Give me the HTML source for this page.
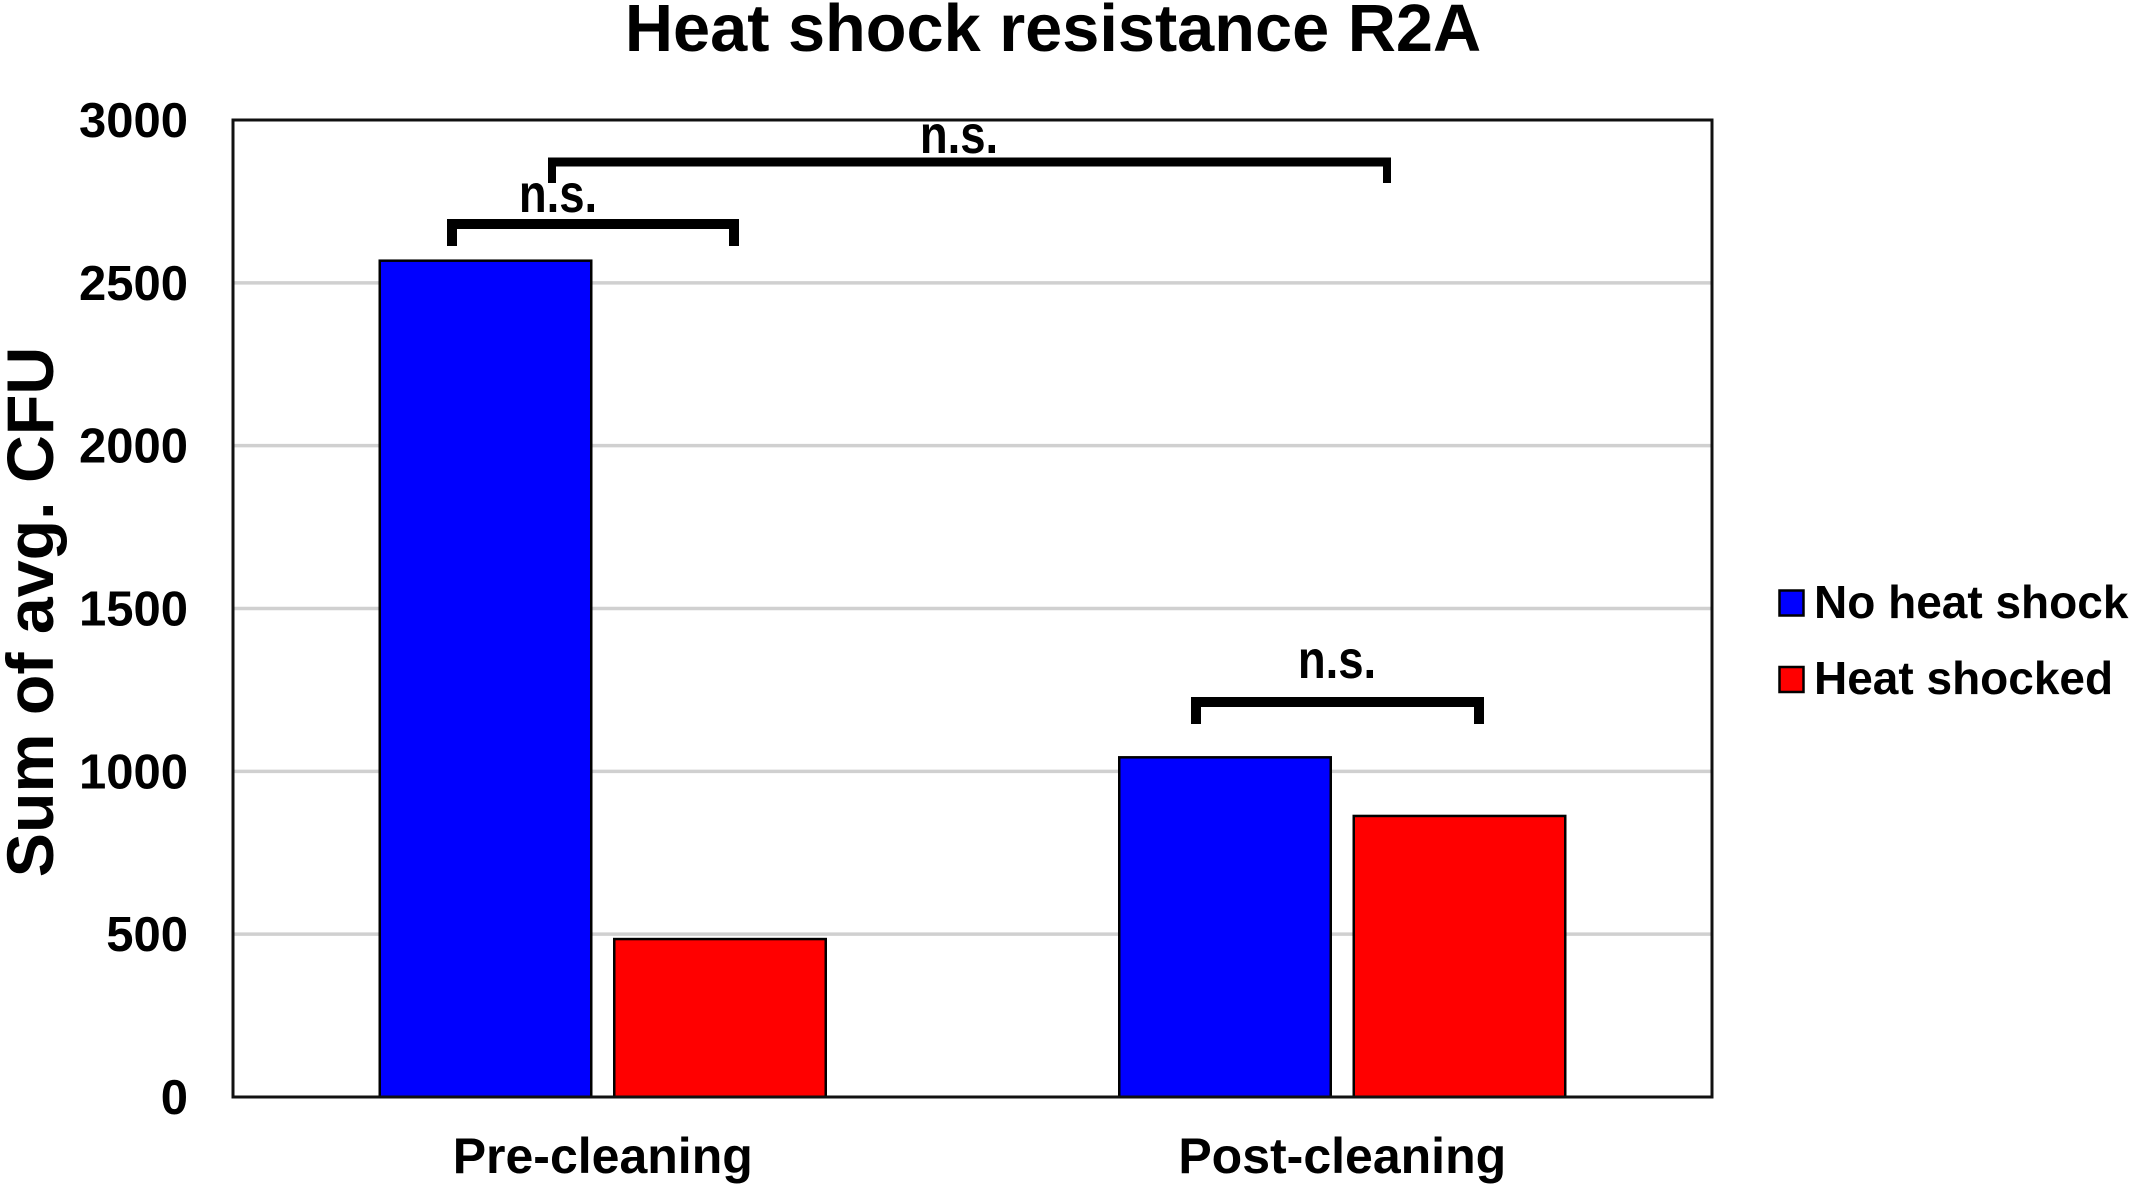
<!DOCTYPE html>
<html>
<head>
<meta charset="utf-8">
<title>Heat shock resistance R2A</title>
<style>
html,body{margin:0;padding:0;background:#fff;width:2132px;height:1188px;overflow:hidden}
svg{display:block}
text{font-family:"Liberation Sans",Arial,sans-serif;font-weight:700;fill:#000}
</style>
</head>
<body>
<svg id="chart" width="2132" height="1188" viewBox="0 0 2132 1188" xmlns="http://www.w3.org/2000/svg">
  <rect x="0" y="0" width="2132" height="1188" fill="#fff"/>
  <text x="1053" y="51" font-size="66.7" text-anchor="middle">Heat shock resistance R2A</text>
  <text transform="translate(53 612) rotate(-90)" font-size="66.3" text-anchor="middle">Sum of avg. CFU</text>
  <g id="grid"></g>
  <g id="bars"></g>
  <rect x="233" y="120" width="1479" height="977" fill="none" stroke="#111" stroke-width="3"/>
  <g id="yticks"></g>
  <g id="xticks"></g>

  <path d="M548 183V157.5H1391V183H1383V166.5H556V183Z" fill="#000"/>
  <text transform="translate(959 153) scale(1 1.18)" font-size="45.5" text-anchor="middle">n.s.</text>
  <path d="M447 246V219H739V246H729V229H457V246Z" fill="#000"/>
  <text transform="translate(558 212) scale(1 1.18)" font-size="45.5" text-anchor="middle">n.s.</text>
  <path d="M1191 724V697H1484V724H1474V707H1201V724Z" fill="#000"/>
  <text transform="translate(1337 678) scale(1 1.18)" font-size="45.5" text-anchor="middle">n.s.</text>

  <g>
    <g>
      <rect x="1779.5" y="590.5" width="24" height="25" fill="#0000ff" stroke="#000" stroke-width="2.5"/>
      <text x="1814" y="618" font-size="46">No heat shock</text>
    </g>
    <g>
      <rect x="1779.5" y="667" width="24" height="25" fill="#ff0000" stroke="#000" stroke-width="2.5"/>
      <text x="1814" y="694" font-size="46">Heat shocked</text>
    </g>
  </g>
</svg>
<script>
const categories = ["Pre-cleaning", "Post-cleaning"];
const noHeatShock = [2568, 1043];
const heatShocked = [485, 863];
const yTicks = [0, 500, 1000, 1500, 2000, 2500, 3000];
const yTickLabels = ["0", "500", "1000", "1500", "2000", "2500", "3000"];

const NS = 'http://www.w3.org/2000/svg';
const plotLeft = 233, plotRight = 1712, plotTop = 120, plotBottom = 1097, yMax = 3000;
const barWidth = 211.5, barGap = 23;

function yScale(v) {
  return plotBottom - (v / yMax) * (plotBottom - plotTop);
}
function xBand(i) {
  return plotLeft + (i + 0.5) * (plotRight - plotLeft) / categories.length;
}
function make(tag, attrs, parent) {
  const el = document.createElementNS(NS, tag);
  for (const k in attrs) el.setAttribute(k, attrs[k]);
  parent.appendChild(el);
  return el;
}

const gridG = document.getElementById('grid');
const barsG = document.getElementById('bars');
const yTicksG = document.getElementById('yticks');
const xTicksG = document.getElementById('xticks');

yTicks.forEach(function (t, i) {
  if (t !== 0 && t !== yMax) {
    const line = make('line', {x1: plotLeft, x2: plotRight, y1: yScale(t), y2: yScale(t), stroke: '#d0d0d0', 'stroke-width': 3.5}, gridG);
    
    
  }
  const label = make('text', {x: 188, y: yScale(t) + 17, 'font-size': 49, 'text-anchor': 'end'}, yTicksG);
  label.textContent = yTickLabels[i];
  
  
});

categories.forEach(function (c, i) {
  const cx = xBand(i);
  const b1 = make('rect', {x: cx - barGap / 2 - barWidth, y: yScale(noHeatShock[i]), width: barWidth, height: plotBottom - yScale(noHeatShock[i]), fill: '#0000ff', stroke: '#000', 'stroke-width': 2.5}, barsG);
  
  
  const b2 = make('rect', {x: cx + barGap / 2, y: yScale(heatShocked[i]), width: barWidth, height: plotBottom - yScale(heatShocked[i]), fill: '#ff0000', stroke: '#000', 'stroke-width': 2.5}, barsG);
  
  
  const label = make('text', {x: cx, y: 1173, 'font-size': 50, 'text-anchor': 'middle'}, xTicksG);
  label.textContent = c;
  
  
});
</script>
</body>
</html>
